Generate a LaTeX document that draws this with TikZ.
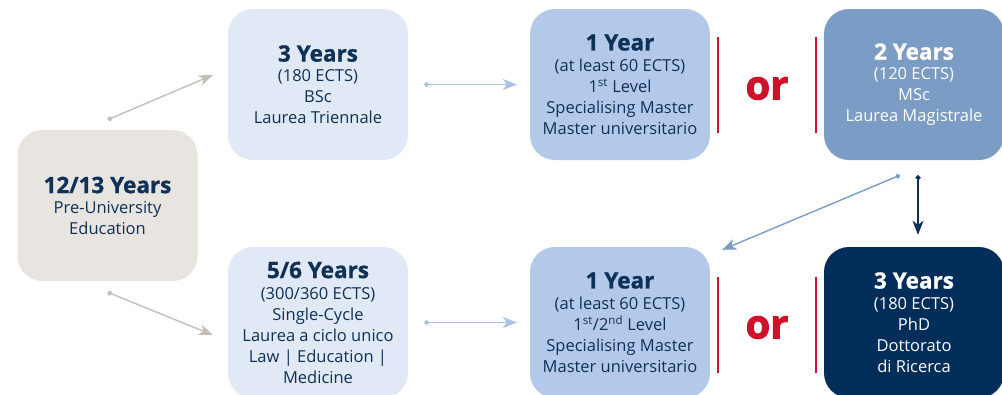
\documentclass[tikz,border=0pt]{standalone}
\usepackage{fontspec}
\setmainfont{Open Sans}
\newfontfamily\heavyfont{Open Sans Bold}[FakeBold=2.5]
\newfontfamily\titlefont{Open Sans Bold}[FakeBold=1]
\usetikzlibrary{calc,arrows.meta}
\definecolor{pregrey}{HTML}{E8E4E0}
\definecolor{paleblue}{HTML}{E1E9F6}
\definecolor{midblue}{HTML}{B4C9E9}
\definecolor{steelblue}{HTML}{7B9CC4}
\definecolor{deepnavy}{HTML}{002D5A}
\definecolor{inknavy}{HTML}{0E3158}
\definecolor{orred}{HTML}{D0112B}
\definecolor{greyline}{HTML}{C5BEB6}
\definecolor{blueline}{HTML}{A9C1E6}
\newcommand{\yrs}[1]{{\fontsize{22.5}{26}\titlefont #1}}
\tikzset{
	stage/.style={rounded corners=25pt, minimum width=180pt, minimum height=151pt, inner sep=0pt, align=center, text=inknavy, font=\fontsize{16.5}{21}\selectfont},
	path/.style={line width=1.4pt, {Circle[length=5pt]}-{Stealth[length=14pt,width=11pt,inset=4pt]}},
	orword/.style={text=orred, font=\fontsize{40}{40}\heavyfont},
	orbar/.style={draw=orred, line width=2.4pt}
}

\begin{document}
\begin{tikzpicture}[x=1pt, y=-1pt]
	%%%%% START %%%%%
	\useasboundingbox (0, 0) rectangle (1002, 394);
	
	\node[stage, fill=pregrey] (pre) at (107.5, 205.5) {\yrs{12/13 Years}\\[-1pt] Pre-University\\ Education};
	
	\node[stage, fill=paleblue] (bsc) at (318, 84.5) {\yrs{3 Years}\\[-1pt] (180 ECTS)\\ BSc\\ Laurea Triennale};
	\node[stage, fill=paleblue] (single) at (318, 322.5) {\yrs{5/6 Years}\\[0pt] (300/360 ECTS)\\ Single-Cycle\\ Laurea a ciclo unico\\ Law | Education |\\ Medicine};
	
	\node[stage, fill=midblue] (mtop) at (620, 84.5) {\yrs{1 Year}\\[0pt] (at least 60 ECTS)\\ 1\textsuperscript{st} Level\\ Specialising Master\\ Master universitario};
	\node[stage, fill=midblue] (mbot) at (620, 322.5) {\yrs{1 Year}\\[0pt] (at least 60 ECTS)\\ 1\textsuperscript{st}/2\textsuperscript{nd} Level\\ Specialising Master\\ Master universitario};
	
	\node[stage, fill=steelblue, text=white] (msc) at (914, 84.5) {\yrs{2 Years}\\[-1pt] (120 ECTS)\\ MSc\\ Laurea Magistrale};
	\node[stage, fill=deepnavy, text=white] (phd) at (914, 322.5) {\yrs{3 Years}\\[0pt] (180 ECTS)\\ PhD\\ Dottorato\\ di Ricerca};
	
	% or
	\node[orword] (ortop) at ($(mtop.east)!0.5!(msc.west)+(0, 4)$) {or};
	\node[orword] (orbot) at ($(mbot.east)!0.5!(phd.west)+(0, 5)$) {or};
	\draw[orbar] ($(mtop.east)+(8, -48)$) -- ($(mtop.east)+(8, 48)$);
	\draw[orbar] ($(msc.west)+(-8, -48)$) -- ($(msc.west)+(-8, 48)$);
	\draw[orbar] ($(mbot.east)+(8, -46)$) -- ($(mbot.east)+(8, 50)$);
	\draw[orbar] ($(phd.west)+(-8, -46)$) -- ($(phd.west)+(-8, 50)$);
	
	% arrows
	\draw[path, greyline] ($(pre.north)+(0, -10)$) -- ($(bsc.west)+(-15, -9.5)$);
	\draw[path, greyline] ($(pre.south)+(0, 11)$) -- ($(single.west)+(-15, 12.5)$);
	\draw[path, blueline] ($(bsc.east)+(16, 0)$) -- ($(mtop.west)+(-13, 0)$);
	\draw[path, blueline] ($(single.east)+(16, 0)$) -- ($(mbot.west)+(-13, 0)$);
	\draw[path, steelblue] ($(msc.south)+(-14, 15)$) -- ($(mbot.north east)+(12, 3)$);
	\draw[path, inknavy] ($(msc.south)+(4, 15)$) -- ($(phd.north)+(4, -12)$);
	
	%%%%% END %%%%%
\end{tikzpicture}
\end{document}
